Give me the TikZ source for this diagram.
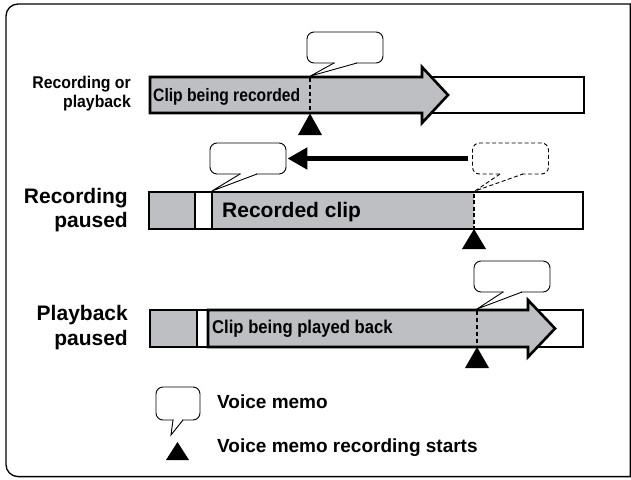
\documentclass[tikz,border=0pt]{standalone}
\usepackage{fontspec}
\setmainfont{Liberation Sans}
\usetikzlibrary{arrows.meta,calc}
\definecolor{barfill}{RGB}{190,191,194}
\tikzset{
  bar/.style={line width=2.6pt, draw=black, line join=miter},
  callout/.style={draw, line width=0.9pt, rounded corners=7pt, fill=white,
    minimum width=76pt, minimum height=31pt, inner sep=0pt},
  dashline/.style={line width=1.2pt, dash pattern=on 4pt off 3pt},
  lbl/.style={inner sep=0pt, font=\bfseries},
}
\newcommand{\calltail}[4][]{%
  \fill[white] ($#3+(0.7,-1.3)$) rectangle ($#4+(-0.7,1.0)$);
  \draw[line width=0.9pt, line join=miter, #1] #3 -- #2 -- #4;
}
\begin{document}
\begin{tikzpicture}[x=1pt,y=-1pt]
\useasboundingbox (0,0) rectangle (631,479);
% frame
\draw[line width=1.3pt] (630.3,4) [rounded corners=12pt] -- (6,4) -- (6,476.6) [sharp corners] -- (630.3,476.6) -- cycle;

% ---------- row 1 ----------
\node[lbl, anchor=base east, font=\bfseries\fontsize{17}{20}\selectfont] (l1a) at (131,88) {\scalebox{0.93}[1]{Recording or}};
\node[lbl, anchor=base east, font=\bfseries\fontsize{17}{20}\selectfont] (l1b) at (131,107) {\scalebox{0.93}[1]{playback}};
\draw[bar, fill=white] (150,77) rectangle (584,113);
\draw[bar, fill=barfill] (150,77) -- (422,77) -- (422,67) -- (448,95) -- (422,123) -- (422,113) -- (150,113) -- cycle;
\node[lbl, anchor=base west, font=\bfseries\fontsize{18}{20}\selectfont] (t1) at (153,101.5) {\scalebox{0.87}[1]{Clip being recorded}};
\draw[dashline] (310,78) -- (310,112);
\fill (310,113.5) -- (322,135) -- (298,135) -- cycle;
\node[callout] (c1) at (345,47.5) {};
\calltail{(310.5,76)}{(334,63)}{(357,63)}

% ---------- row 2 ----------
\node[lbl, anchor=base east, font=\bfseries\fontsize{21}{24}\selectfont] (l2a) at (128,203) {Recording};
\node[lbl, anchor=base east, font=\bfseries\fontsize{21}{24}\selectfont] (l2b) at (128,227) {paused};
\fill[white] (149,192) rectangle (583,229);
\fill[barfill] (149,192) rectangle (195,229);
\fill[barfill] (212,192) rectangle (474,229);
\draw[bar] (195,192) -- (195,229);
\draw[bar] (212,192) -- (212,229);
\draw[bar] (149,192) rectangle (583,229);
\draw[line width=1.6pt, dash pattern=on 4pt off 2.5pt] (474,193.5) -- (474,227.5);
\node[lbl, anchor=base west, font=\bfseries\fontsize{21}{24}\selectfont] (t2) at (222,217.5) {Recorded clip};
\fill (474,229) -- (486,249) -- (462,249) -- cycle;
\node[callout] (c2) at (248,158.5) {};
\calltail{(212,191)}{(240,174)}{(257,174)}
\node[callout, dash pattern=on 4pt off 2.5pt] (dc) at (510.5,158.5) {};
\calltail[dash pattern=on 4pt off 2.5pt]{(475,191)}{(500,174)}{(523,174)}
\draw[line width=5pt, -{Triangle[length=20pt,width=21pt]}, shorten <=4pt, shorten >=1pt] (dc.west) -- (c2.east);

% ---------- row 3 ----------
\node[lbl, anchor=base east, font=\bfseries\fontsize{21}{24}\selectfont] (l3a) at (128,320) {Playback};
\node[lbl, anchor=base east, font=\bfseries\fontsize{21}{24}\selectfont] (l3b) at (128,345) {paused};
\fill[white] (150,310) rectangle (583,347);
\fill[barfill] (150,310) rectangle (197,347);
\draw[bar] (197,310) -- (197,347);
\draw[bar] (150,310) rectangle (583,347);
\draw[bar, fill=barfill] (208,310) -- (528,310) -- (528,300) -- (555,328.5) -- (528,357) -- (528,347) -- (208,347) -- cycle;
\node[lbl, anchor=base west, font=\bfseries\fontsize{18.5}{22}\selectfont] (t3) at (212,333) {\scalebox{0.9}[1]{Clip being played back}};
\draw[dashline] (477,311) -- (477,346);
\fill (477,347) -- (489,368) -- (465,368) -- cycle;
\node[callout] (c3) at (512,276.5) {};
\calltail{(477,309)}{(503,292)}{(522,292)}

% ---------- legend ----------
\node[callout, minimum width=44pt, minimum height=33pt] (lg) at (178,403.5) {};
\calltail{(171,435)}{(173,420)}{(183,420)}
\fill (177.5,442) -- (189,460) -- (166,460) -- cycle;
\node[lbl, anchor=base west, font=\bfseries\fontsize{19}{22}\selectfont] (v1) at (217,408) {Voice memo};
\node[lbl, anchor=base west, font=\bfseries\fontsize{19}{22}\selectfont] (v2) at (217,452) {Voice memo recording starts};
\end{tikzpicture}
\end{document}
